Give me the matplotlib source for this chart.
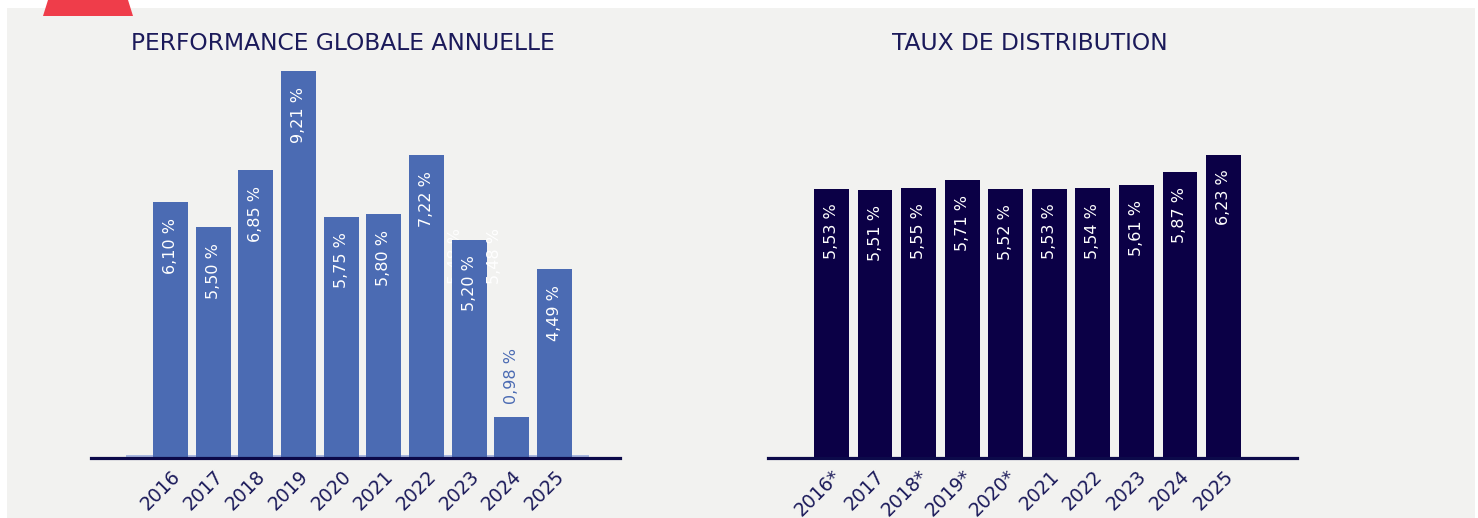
import matplotlib
matplotlib.use("Agg")
import matplotlib.pyplot as plt
from matplotlib.patches import Rectangle, Polygon

# ---------------- data ----------------
years = ["2016", "2017", "2018", "2019", "2020", "2021", "2022", "2023", "2024", "2025"]
perf_values = [6.10, 5.50, 6.85, 9.21, 5.75, 5.80, 7.22, 5.20, 0.98, 4.49]
perf_labels = ["6,10 %", "5,50 %", "6,85 %", "9,21 %", "5,75 %", "5,80 %", "7,22 %", "5,20 %", "0,98 %", "4,49 %"]
dist_years = ["2016*", "2017", "2018*", "2019*", "2020*", "2021", "2022", "2023", "2024", "2025"]
dist_values = [5.53, 5.51, 5.55, 5.71, 5.52, 5.53, 5.54, 5.61, 5.87, 6.23]
dist_labels = ["5,53 %", "5,51 %", "5,55 %", "5,71 %", "5,52 %", "5,53 %", "5,54 %", "5,61 %", "5,87 %", "6,23 %"]
ghost_value = 5.48
ghost_label = "5,48 %"
title_left = "PERFORMANCE GLOBALE ANNUELLE"
title_right = "TAUX DE DISTRIBUTION"

# ---------------- style ----------------
W, H = 1478, 518
BG = "#f2f2f0"
NAVY = "#1b1a5a"
AXIS = "#0c0a4a"
BLUE = "#4b6bb3"
DARK = "#0b0046"
RED = "#ef3d4a"

fig = plt.figure(figsize=(W / 100, H / 100), dpi=100)
fig.patch.set_facecolor("white")

def fx(px):
    return px / W

def fy(py):
    return 1 - py / H

# panel background
fig.patches.append(Rectangle((fx(7), 0), fx(1475) - fx(7), fy(8), transform=fig.transFigure,
                             facecolor=BG, edgecolor="none", zorder=-10))
# red tab
fig.patches.append(Polygon([(fx(48), fy(0)), (fx(128), fy(0)), (fx(133), fy(16)), (fx(43), fy(16))],
                           closed=True, transform=fig.transFigure, facecolor=RED, edgecolor="none", zorder=-9))

def make_axes(left_px, right_px, top_px, bottom_px):
    ax = fig.add_axes([fx(left_px), fy(bottom_px), fx(right_px) - fx(left_px), fy(top_px) - fy(bottom_px)])
    ax.set_zorder(1)
    ax.set_facecolor("none")
    for s in ["top", "right", "left"]:
        ax.spines[s].set_visible(False)
    ax.spines["bottom"].set_color(AXIS)
    ax.spines["bottom"].set_linewidth(2.3)
    ax.spines["bottom"].set_zorder(5)
    ax.set_yticks([])
    ax.tick_params(axis="x", length=0, pad=6, labelsize=13.5, labelcolor=NAVY)
    return ax

# ---------------- left chart ----------------
axL = make_axes(91, 620, 38, 458)
x = list(range(len(years)))
axL.set_xlim(-1.863, 10.536)
axL.set_ylim(0, 10)
axL.add_patch(Rectangle((-1.043, 0), 9.81 + 1.043, 0.06, facecolor="#a9b8e0", edgecolor="none", zorder=1))
# ghost label behind bars
axL.text(6.68, ghost_value, ghost_label, rotation=90, ha="center", va="top", color="white",
         fontsize=11.5, zorder=1.5, alpha=0.9)
axL.bar(x, perf_values, width=0.82, color=BLUE, zorder=2)
for i, (v, lab) in enumerate(zip(perf_values, perf_labels)):
    if v < 2:
        axL.annotate(lab, (i, v), xytext=(0, 13), textcoords="offset pixels", rotation=90,
                     ha="center", va="bottom", color=BLUE, fontsize=11.5, zorder=3)
    else:
        axL.annotate(lab, (i, v), xytext=(0, -16), textcoords="offset pixels", rotation=90,
                     ha="center", va="top", color="white", fontsize=11.5, zorder=3)
axL.text(7.60, ghost_value, ghost_label, rotation=90, ha="center", va="top", color="white",
         fontsize=11.5, zorder=3)
axL.set_xticks(x)
axL.set_xticklabels(years, rotation=45, ha="right", rotation_mode="anchor")

# ---------------- right chart ----------------
axR = make_axes(768, 1297, 68.4, 458)
axR.set_xlim(-1.458, 10.687)
axR.set_ylim(0, 8)
axR.bar(x, dist_values, width=0.80, color=DARK, zorder=2)
for i, (v, lab) in enumerate(zip(dist_values, dist_labels)):
    axR.annotate(lab, (i, v), xytext=(0, -15), textcoords="offset pixels", rotation=90,
                 ha="center", va="top", color="white", fontsize=11.5, zorder=3)
axR.set_xticks(x)
axR.set_xticklabels(dist_years, rotation=45, ha="right", rotation_mode="anchor")

# ---------------- titles ----------------
fig.text(fx(343), fy(44), title_left, ha="center", va="center", fontsize=16.8, color=NAVY)
fig.text(fx(1030), fy(44), title_right, ha="center", va="center", fontsize=16.8, color=NAVY)

fig.savefig("out.png", dpi=100, facecolor=fig.get_facecolor())
